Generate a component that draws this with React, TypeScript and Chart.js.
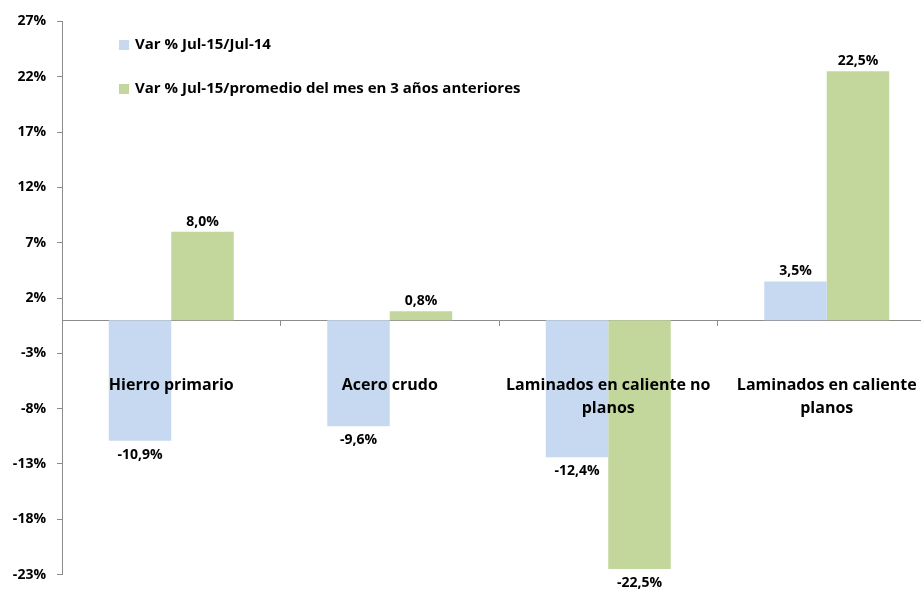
import React, { useEffect, useRef } from "react";
import { Chart, registerables } from "chart.js";

Chart.register(...registerables);

const categories: string[][] = [
  ["Hierro primario"],
  ["Acero crudo"],
  ["Laminados en caliente no", "planos"],
  ["Laminados en caliente", "planos"],
];
const seriesNames = [
  "Var % Jul-15/Jul-14",
  "Var % Jul-15/promedio del mes en 3 años anteriores",
];
const seriesYoY = [-10.9, -9.6, -12.4, 3.5];
const seriesAvg = [8.0, 0.8, -22.5, 22.5];
const yTicks = [-23, -18, -13, -8, -3, 2, 7, 12, 17, 22, 27];

const COLORS = ["#C6D9F1", "#C3D69B"];
const AXIS = "#8C8C8C";
const FONT = "'Open Sans', Lato, sans-serif";

const fmt = (v: number) => v.toFixed(1).replace(".", ",") + "%";

const overlayPlugin = {
  id: "overlay",
  afterDatasetsDraw(chart: any) {
    const ctx = chart.ctx;
    const xs = chart.scales.x;
    const ys = chart.scales.y;
    ctx.save();
    // data labels
    ctx.font = `bold 14px ${FONT}`;
    ctx.fillStyle = "#000";
    ctx.textAlign = "center";
    ctx.textBaseline = "middle";
    chart.data.datasets.forEach((ds: any, di: number) => {
      const meta = chart.getDatasetMeta(di);
      meta.data.forEach((el: any, i: number) => {
        const v = ds.data[i];
        const y = v >= 0 ? el.y - 10 : el.y + 14;
        ctx.fillText(fmt(v), el.x, y);
      });
    });
    // category labels
    ctx.font = `bold 16px ${FONT}`;
    const y0 = ys.getPixelForValue(0);
    categories.forEach((lines, i) => {
      const x = xs.getPixelForTick(i);
      lines.forEach((ln, j) => {
        ctx.fillText(ln, x, y0 + 65.5 + j * 23);
      });
    });
    // legend
    ctx.textAlign = "left";
    ctx.font = `bold 15px ${FONT}`;
    const legendY = [45, 89];
    seriesNames.forEach((name, i) => {
      ctx.fillStyle = COLORS[i];
      ctx.fillRect(119, legendY[i] - 5, 10, 10);
      ctx.fillStyle = "#000";
      ctx.fillText(name, 135, legendY[i]);
    });
    ctx.restore();
  },
};

export default function App() {
  const ref = useRef<HTMLCanvasElement | null>(null);
  useEffect(() => {
    if (!ref.current) return;
    const chart = new Chart(ref.current, {
      type: "bar",
      data: {
        labels: categories,
        datasets: [
          {
            label: seriesNames[0],
            data: seriesYoY,
            backgroundColor: COLORS[0],
            categoryPercentage: 0.572,
            barPercentage: 1,
          },
          {
            label: seriesNames[1],
            data: seriesAvg,
            backgroundColor: COLORS[1],
            categoryPercentage: 0.572,
            barPercentage: 1,
          },
        ],
      },
      options: {
        responsive: false,
        animation: false,
        layout: { padding: { top: 21.5, bottom: 17, left: 0, right: 0 } },
        plugins: {
          legend: { display: false },
          tooltip: { enabled: false },
        },
        scales: {
          x: {
            position: { y: 0 } as any,
            offset: true,
            ticks: { display: false },
            grid: {
              drawOnChartArea: false,
              tickLength: 5,
              color: AXIS,
              offset: true,
            },
            border: { color: AXIS, width: 1 },
          },
          y: {
            min: -23,
            max: 27,
            afterBuildTicks: (scale: any) => {
              scale.ticks = yTicks.map((v) => ({ value: v }));
            },
            afterFit: (scale: any) => {
              scale.width = 62;
            },
            ticks: {
              padding: 11,
              color: "#000",
              font: { family: FONT, size: 14, weight: "bold" },
              callback: (v: any) => v + "%",
            },
            grid: { drawOnChartArea: false, tickLength: 5, color: AXIS },
            border: { color: AXIS, width: 1 },
          },
        },
      },
      plugins: [overlayPlugin],
    });
    return () => chart.destroy();
  }, []);
  return (
    <div
      style={{
        position: "fixed",
        left: 0,
        top: 0,
        width: 921,
        height: 594,
        overflow: "hidden",
        background: "#fff",
      }}
    >
      <canvas ref={ref} width={936} height={594} style={{ display: "block" }} />
    </div>
  );
}
